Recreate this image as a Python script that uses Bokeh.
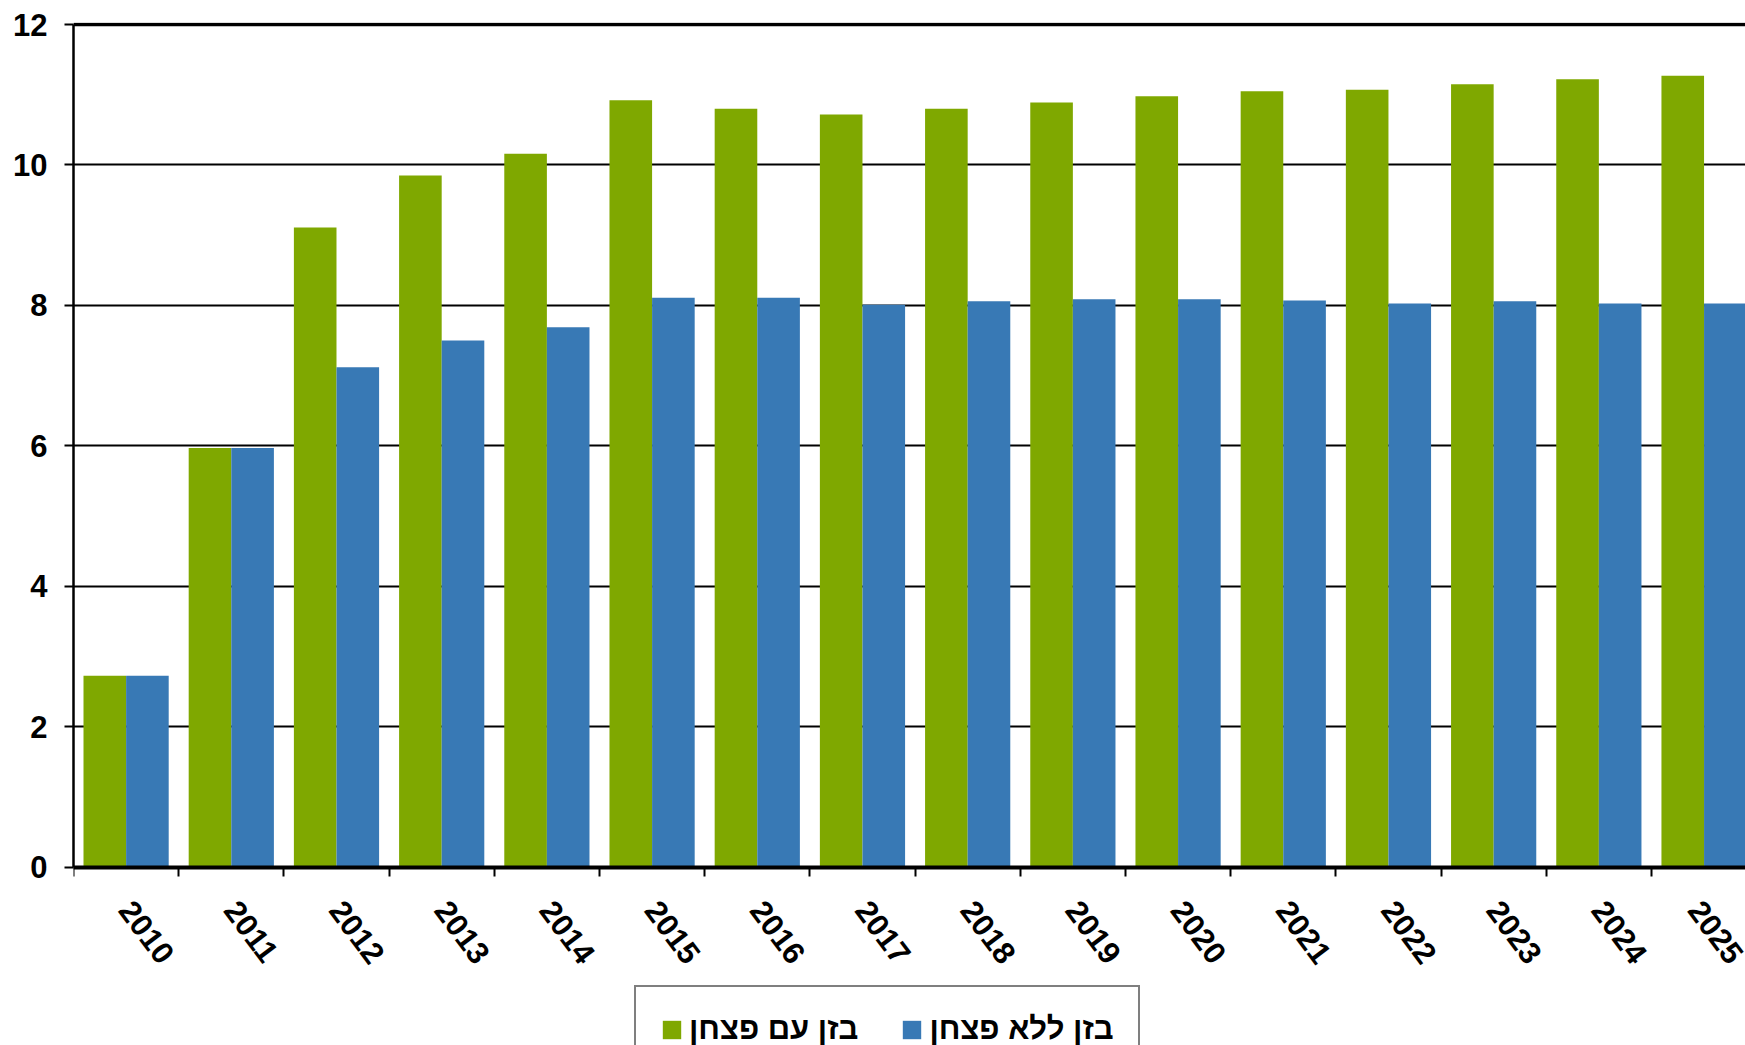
from bokeh.plotting import figure
from bokeh.models import FixedTicker, Legend, LegendItem, Span, ColumnDataSource
from bokeh.embed import file_html
from bokeh.resources import INLINE

# ---- data ----
years = ["2010", "2011", "2012", "2013", "2014", "2015", "2016", "2017",
         "2018", "2019", "2020", "2021", "2022", "2023", "2024", "2025"]
with_cracker = [2.73, 5.97, 9.11, 9.85, 10.16, 10.92, 10.80, 10.72,
                10.80, 10.89, 10.98, 11.05, 11.07, 11.15, 11.22, 11.27]
without_cracker = [2.73, 5.97, 7.12, 7.50, 7.69, 8.11, 8.11, 8.01,
                   8.06, 8.09, 8.09, 8.07, 8.03, 8.06, 8.03, 8.03]
series_labels = ["בזן עם פצחן", "בזן ללא פצחן"]
y_ticks = [0, 2, 4, 6, 8, 10, 12]

GREEN = "#7fa800"
BLUE = "#3879b5"
FONT = "Liberation Sans"

n = len(years)
idx = list(range(n))
bar_w = 0.405
src = ColumnDataSource(dict(
    xg=[i - bar_w / 2 for i in idx],
    xb=[i + bar_w / 2 for i in idx],
    g=with_cracker,
    b=without_cracker,
))

# frame spans to the bottom of the canvas; the value axis keeps 0..12,
# the space below 0 holds the rotated year labels and the legend
p = figure(width=1745, height=1045, x_range=(-0.5, 15.394), y_range=(-2.534, 12.0285),
           output_backend="svg", toolbar_location=None,
           min_border_left=73, min_border_right=0, min_border_top=22,
           min_border_bottom=0)
p.outline_line_color = None
p.background_fill_color = "white"
p.border_fill_color = "white"

rg = p.vbar(x="xg", top="g", bottom=0, width=bar_w, source=src, fill_color=GREEN, line_color=None)
rb = p.vbar(x="xb", top="b", bottom=0, width=bar_w, source=src, fill_color=BLUE, line_color=None)

# grid
p.xgrid.grid_line_color = None
p.ygrid.ticker = FixedTicker(ticks=y_ticks)
p.ygrid.grid_line_color = "black"
p.ygrid.grid_line_width = 2
p.add_layout(Span(location=y_ticks[-1], dimension="width", line_color="black", line_width=3.5))

# x axis (sits at value 0)
xa = p.xaxis[0]
xa.fixed_location = 0
xa.ticker = FixedTicker(ticks=idx, minor_ticks=[i - 0.5 for i in range(n + 1)])
xa.major_label_overrides = {i: years[i] for i in idx}
xa.major_tick_out = 0
xa.major_tick_in = 0
xa.minor_tick_out = 9
xa.minor_tick_in = 0
xa.minor_tick_line_color = "black"
xa.minor_tick_line_width = 2
xa.axis_line_color = "black"
xa.axis_line_width = 4
xa.major_label_orientation = -0.925
xa.major_label_standoff = 28
xa.major_label_text_font = FONT
xa.major_label_text_font_style = "bold"
xa.major_label_text_font_size = "31px"
xa.major_label_text_color = "black"

# y axis
ya = p.yaxis[0]
ya.bounds = (y_ticks[0], y_ticks[-1])
ya.ticker = FixedTicker(ticks=y_ticks)
ya.major_tick_out = 9
ya.major_tick_in = 0
ya.major_tick_line_color = "black"
ya.major_tick_line_width = 2
ya.minor_tick_out = 0
ya.minor_tick_in = 0
ya.axis_line_color = "black"
ya.axis_line_width = 2.5
ya.major_label_standoff = 17
ya.major_label_text_font = FONT
ya.major_label_text_font_style = "bold"
ya.major_label_text_font_size = "31px"
ya.major_label_text_color = "black"

legend = Legend(items=[LegendItem(label=series_labels[0], renderers=[rg]),
                       LegendItem(label=series_labels[1], renderers=[rb])],
                orientation="horizontal", location=(561, -28))
legend.border_line_color = "black"
legend.border_line_width = 2
legend.background_fill_color = "white"
legend.background_fill_alpha = 1
legend.padding = 24
legend.spacing = 42
legend.glyph_width = 23
legend.glyph_height = 23
legend.label_standoff = 6
legend.label_text_font = FONT
legend.label_text_font_style = "bold"
legend.label_text_font_size = "31px"
legend.label_text_color = "black"
p.add_layout(legend, "center")

open("out.html", "w").write(file_html(p, INLINE))
